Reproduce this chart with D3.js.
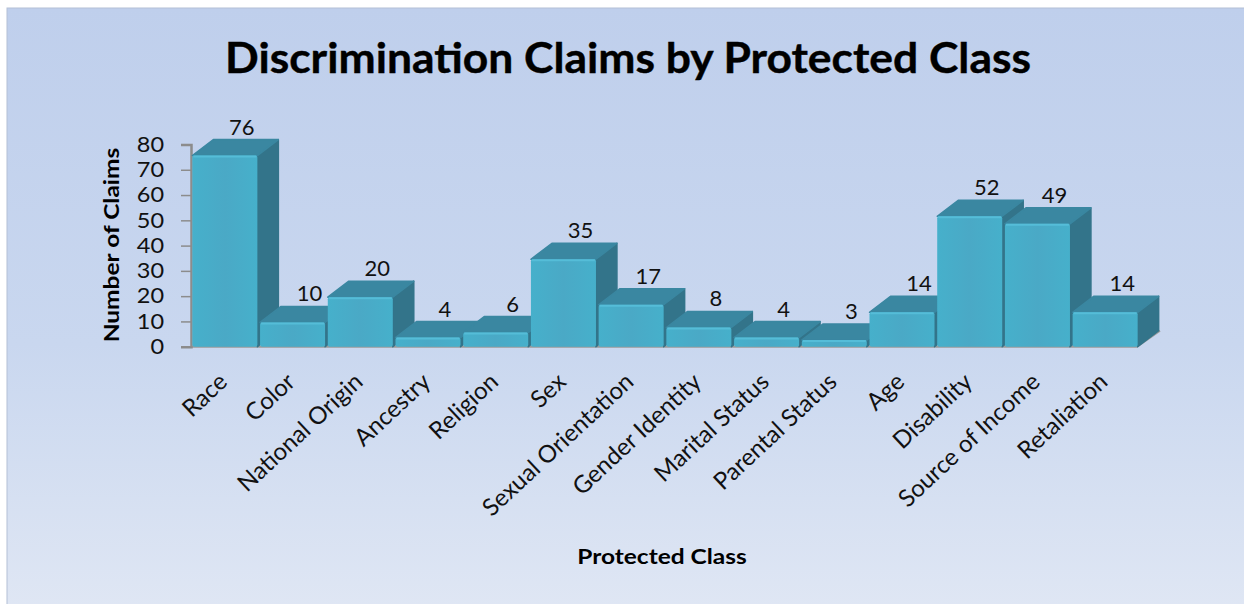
<!DOCTYPE html>
<html>
<head>
<meta charset="utf-8">
<script src="https://d3js.org/d3.v7.min.js"></script>
<style>
  body { margin:0; background:#fff; overflow:hidden; }
  svg { display:block; font-family:Lato, sans-serif; }
  .title { font-size:41.5px; font-weight:bold; fill:#000; stroke:#000; stroke-width:0.4px; text-anchor:middle; }
  .axis-title { font-size:21.3px; font-weight:bold; fill:#000; text-anchor:middle; }
  .y-axis text { font-size:21px; fill:#111; font-family:Lato, sans-serif; }
  .x-axis text { font-size:24px; fill:#111; font-family:Lato, sans-serif; }
  .value { font-size:22px; fill:#111; text-anchor:middle; }
</style>
</head>
<body>
<script>
var classes = ["Race","Color","National Origin","Ancestry","Religion","Sex","Sexual Orientation",
  "Gender Identity","Marital Status","Parental Status","Age","Disability","Source of Income","Retaliation"];
var claims = [76,10,20,4,6,35,17,8,4,3,14,52,49,14];
var yTicks = [0,10,20,30,40,50,60,70,80];

var depthX = 21, depthY = 16;

var svg = d3.select("body").append("svg").attr("width",1244).attr("height",604);
var defs = svg.append("defs");

var bg = defs.append("linearGradient").attr("id","bg").attr("x1",0).attr("y1",0).attr("x2",0).attr("y2",1);
bg.append("stop").attr("offset","0%").attr("stop-color","#bfcfec");
bg.append("stop").attr("offset","55%").attr("stop-color","#c9d7ef");
bg.append("stop").attr("offset","100%").attr("stop-color","#e0e7f4");

var front = defs.append("linearGradient").attr("id","front").attr("x1",0).attr("y1",0).attr("x2",1).attr("y2",0);
front.append("stop").attr("offset","0%").attr("stop-color","#46b0cb");
front.append("stop").attr("offset","50%").attr("stop-color","#4aa9c6");
front.append("stop").attr("offset","100%").attr("stop-color","#46b0cb");

svg.append("rect").attr("x",7).attr("y",8).attr("width",1250).attr("height",610)
  .attr("fill","url(#bg)").attr("stroke","#b4c0d6").attr("stroke-width",1);

// the picture is a bit wider than its fonts, so text gets a small horizontal stretch
svg.append("text").attr("class","title")
  .attr("transform","translate(628,73) scale(1.07,1)")
  .text("Discrimination Claims by Protected Class");

var x = d3.scaleBand().domain(classes).range([191,1139]).paddingInner(0.04).paddingOuter(0.02);
var y = d3.scaleLinear().domain([0,80]).range([346.7,144.5]);

// floor edge
svg.append("path")
  .attr("d", d3.line()([[x.range()[0],y(0)],[x.range()[1]-2,y(0)],[x.range()[1]-2+depthX+2,y(0)-depthY]]))
  .attr("fill","none").attr("stroke","#9a9a9a").attr("stroke-width",2);

var yAxis = d3.axisLeft(y).tickValues(yTicks).tickSize(10).tickPadding(14);
var yG = svg.append("g").attr("class","y-axis").attr("transform","translate(191,0)").call(yAxis);
yG.selectAll("path").attr("stroke","#8c8c8c").attr("stroke-width",2.5);
yG.selectAll("line").attr("stroke","#8c8c8c").attr("stroke-width",1.5);
yG.selectAll("text").attr("transform","scale(1.12,1)");

var xAxis = d3.axisBottom(x).tickSize(0).tickPadding(0);
var xG = svg.append("g").attr("class","x-axis").attr("transform","translate(0,"+y(0)+")").call(xAxis);
xG.select("path").remove();
xG.selectAll("text")
  .attr("text-anchor","end")
  .attr("y",0)
  .attr("dy",0)
  .attr("transform","translate(4,37) rotate(-43)");

// left to right, each bar covers the side of the one before it
var bars = svg.selectAll(".bar").data(claims).enter().append("g").attr("class","bar");
var bx = function(d,i){ return x(classes[i]); };
var bw = x.bandwidth();

bars.append("path")
  .attr("d", function(d,i){
    var l = bx(d,i)+bw, t = y(d)+1, b = y(0);
    return d3.line()([[l,t],[l+depthX,t-depthY],[l+depthX,b-depthY],[l,b]])+"Z";
  })
  .attr("fill","#33748a").attr("stroke","#33748a").attr("stroke-width",1.5).attr("stroke-linejoin","round");

bars.append("path")
  .attr("d", function(d,i){
    var l = bx(d,i), t = y(d)+1;
    return d3.line()([[l,t],[l+depthX,t-depthY],[l+bw+depthX,t-depthY],[l+bw,t]])+"Z";
  })
  .attr("fill","#3a87a1").attr("stroke","#3a87a1").attr("stroke-width",1.5).attr("stroke-linejoin","round");

bars.append("rect")
  .attr("x",bx).attr("y",function(d){ return y(d)+1; })
  .attr("width",bw).attr("height",function(d){ return y(0)-y(d)-1; })
  .attr("rx",2).attr("fill","url(#front)");

bars.append("line")
  .attr("x1",function(d,i){ return bx(d,i)+1; }).attr("x2",function(d,i){ return bx(d,i)+bw-1; })
  .attr("y1",function(d){ return y(d)+2; }).attr("y2",function(d){ return y(d)+2; })
  .attr("stroke","#55bdd8").attr("stroke-width",2);

bars.append("text").attr("class","value")
  .attr("x",function(d,i){ return bx(d,i)+bw/2+17; })
  .attr("y",function(d){ return y(d)+1-depthY-5; })
  .text(function(d){ return d; });

svg.append("text").attr("class","axis-title")
  .attr("transform","translate(119,245) rotate(-90) scale(1.15,1)").text("Number of Claims");
svg.append("text").attr("class","axis-title")
  .attr("transform","translate(662,564) scale(1.15,1)").text("Protected Class");
</script>
</body>
</html>
